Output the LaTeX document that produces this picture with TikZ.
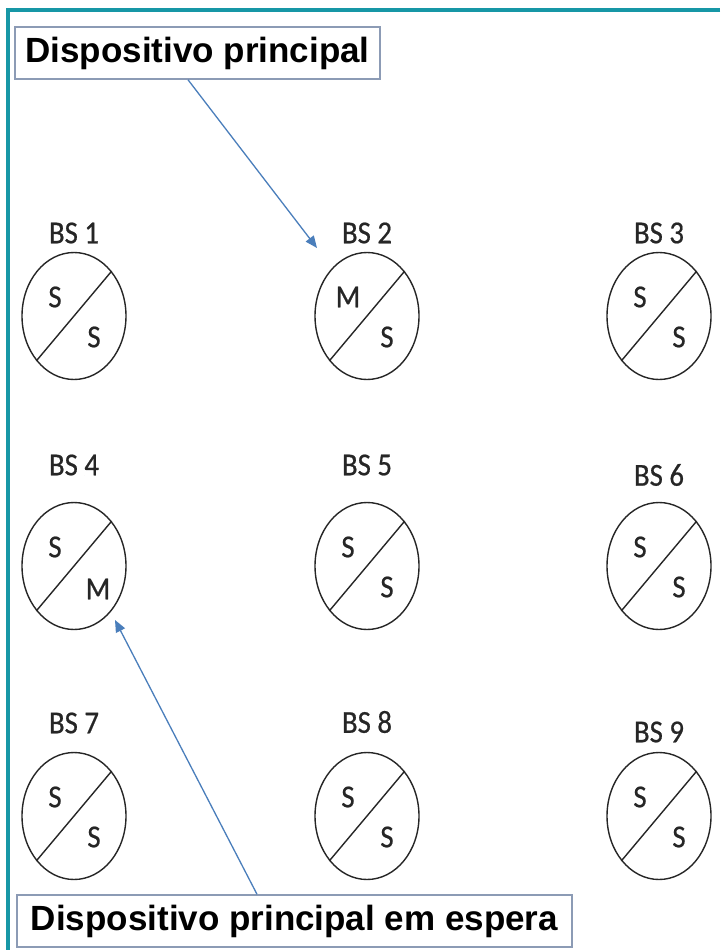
\documentclass[tikz,border=0pt]{standalone}
\usepackage{fontspec}
\setmainfont{Carlito}
\newfontfamily\bsfont[FakeStretch=0.9,FakeBold=0.6]{Carlito}
\newfontfamily\boxfont{Liberation Sans}
\usetikzlibrary{shapes.geometric,arrows.meta}
\definecolor{frameteal}{HTML}{1797A6}
\definecolor{arrowblue}{HTML}{4A7EBB}
\definecolor{boxedge}{HTML}{8C9BB5}
\newcommand\basest[7]{%
  \node[bs] (#1) at (#2,#3) {};
  \draw[diag] (#1.230) -- (#1.50);
  \node[lab] (#1l) at (#2,#4) {BS #7};
  \node[lab] (#1a) at ([shift={(-19,-19)}]#1.center) {#5};
  \node[lab] (#1b) at ([shift={(20,21)}]#1.center) {#6};
}
\begin{document}
\begin{tikzpicture}[x=1pt,y=-1pt,
  bs/.style={draw=black!85, line width=1.4pt, ellipse, minimum width=104pt, minimum height=127pt, inner sep=0pt},
  diag/.style={draw=black!85, line width=1.4pt},
  lab/.style={font=\bsfont\fontsize{32}{32}\selectfont, text=black!85, inner sep=0pt},
  callout/.style={draw=boxedge, line width=1.5pt, fill=white, inner sep=0pt, minimum height=52pt, font=\boxfont\bfseries\fontsize{35}{35}\selectfont},
  arr/.style={draw=arrowblue, line width=1.3pt, -{Triangle[length=12pt,width=10pt]}}]
\useasboundingbox (0,0) rectangle (720,950);
\fill[white] (0,0) rectangle (720,950);
\draw[frameteal, line width=4pt] (720,10) -- (8,10) -- (8,950);

\basest{bsa}{74}{316}{233}{S}{S}{1}
\basest{bsb}{367}{316}{233}{M}{S}{2}
\basest{bsc}{659}{316}{233}{S}{S}{3}
\node[bs] (bsd) at (74,566) {};
\draw[diag] (bsd.230) -- (bsd.50);
\node[lab] (bsdl) at (74,465) {BS 4};
\node[lab] (bsda) at ([shift={(-19,-19)}]bsd.center) {S};
\node[lab] (bsdb) at ([shift={(24,23)}]bsd.center) {M};
\basest{bse}{367}{566}{465}{S}{S}{5}
\basest{bsf}{659}{566}{475}{S}{S}{6}
\basest{bsg}{74}{816}{723}{S}{S}{7}
\basest{bsh}{367}{816}{722}{S}{S}{8}
\basest{bsi}{659}{816}{732}{S}{S}{9}

\node[callout, minimum width=365pt] (top) at (197.5,53) {Dispositivo principal};
\node[callout, minimum width=555pt] (bot) at (294.5,921) {Dispositivo principal em espera};
\coordinate (tipa) at (317,248);
\coordinate (tipb) at (115,620);
\draw[arr] ([xshift=-9.5pt]top.south) -- (tipa);
\draw[arr] ([xshift=-37.5pt]bot.north) -- (tipb);
\end{tikzpicture}
\end{document}
